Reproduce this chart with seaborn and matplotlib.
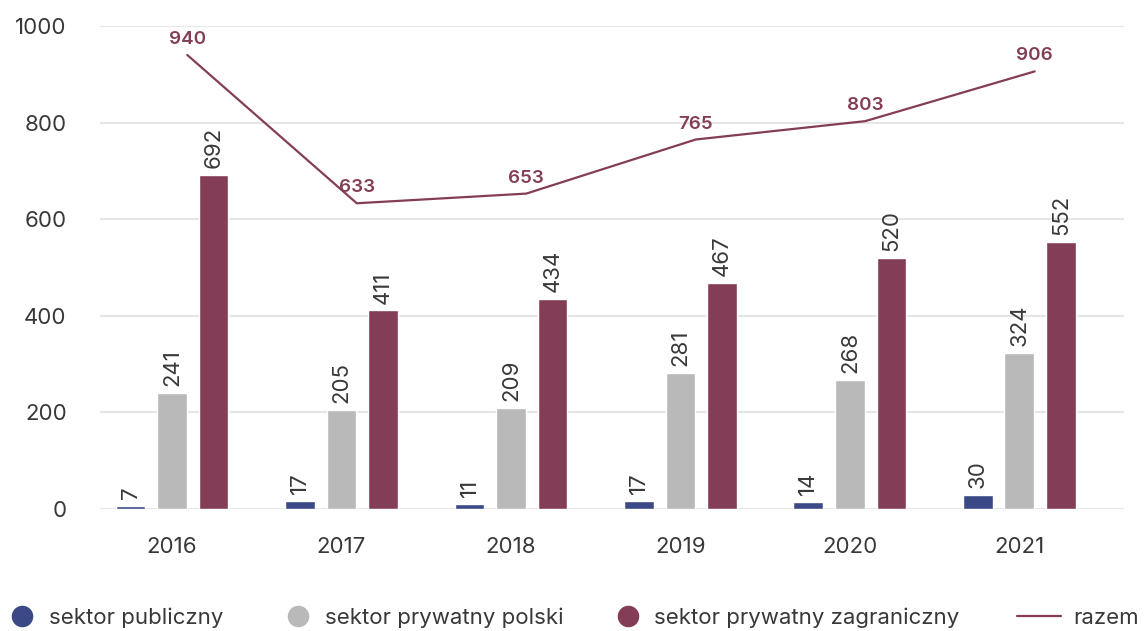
import numpy as np
import pandas as pd
import matplotlib
matplotlib.use("Agg")
import matplotlib.pyplot as plt
from matplotlib.lines import Line2D
import seaborn as sns

# Values per year
years = ["2016", "2017", "2018", "2019", "2020", "2021"]
publiczny = [7, 17, 11, 17, 14, 30]
prywatny_polski = [241, 205, 209, 281, 268, 324]
prywatny_zagraniczny = [692, 411, 434, 467, 520, 552]
razem = [940, 633, 653, 765, 803, 906]

sectors = ["sektor publiczny", "sektor prywatny polski", "sektor prywatny zagraniczny"]
colors = ["#3b4a86", "#b8b9b8", "#843d56"]
line_color = "#843d56"

df = pd.DataFrame({
    "rok": years * 3,
    "sektor": [sectors[0]] * 6 + [sectors[1]] * 6 + [sectors[2]] * 6,
    "liczba": publiczny + prywatny_polski + prywatny_zagraniczny,
})

sns.set_theme(style="white")
plt.rcParams["font.family"] = ["Inter", "DejaVu Sans"]
text_color = "#383838"
fs = 16

fig = plt.figure(figsize=(11.44, 6.31), dpi=100)
ax = fig.add_axes([100 / 1144, 1 - 509 / 631, 1024 / 1144, 483 / 631])

sns.barplot(data=df, x="rok", y="liczba", hue="sektor", hue_order=sectors,
            palette=colors, width=0.735, gap=0.28, saturation=1,
            legend=False, ax=ax, zorder=3)

for container in ax.containers:
    ax.bar_label(container, labels=[f"{v:.0f}" for v in container.datavalues],
                 rotation=90, padding=5, fontsize=fs, color=text_color)

# total line, slightly right of each group's centre
xpos = np.arange(len(years)) + 0.09
sns.lineplot(x=xpos, y=razem, color=line_color, linewidth=1.6, ax=ax, zorder=4)
for x, v in zip(xpos, razem):
    ax.annotate(f"{v}", (x, v), xytext=(0, 5), textcoords="offset points",
                ha="center", va="bottom", fontsize=13.5, fontweight="semibold",
                color=line_color, annotation_clip=False)

ax.set_xlim(-0.425, 5.617)
ax.set_ylim(0, 1000)
ax.set_yticks(range(0, 1001, 200))
ax.yaxis.grid(True, color="#e6e6e6", linewidth=1.5, zorder=0)
ax.set_axisbelow(True)
ax.set_xlabel("")
ax.set_ylabel("")
for s in ax.spines.values():
    s.set_visible(False)
ax.tick_params(axis="both", length=0, labelsize=fs, colors=text_color)
ax.tick_params(axis="y", pad=24)
ax.tick_params(axis="x", pad=20)

# legend row along the bottom
def add_item(handle, label, x_left, handlelength, textpad):
    fig.legend(handles=[handle], labels=[label], loc="center left",
               bbox_to_anchor=(x_left / 1144, 1 - 618 / 631), frameon=False,
               borderpad=0, borderaxespad=0, handlelength=handlelength,
               handletextpad=textpad, prop={"size": fs},
               labelcolor=text_color)

def dot(c):
    return Line2D([], [], marker="o", linestyle="none", markersize=14.5,
                  markerfacecolor=c, markeredgecolor=c)

add_item(dot(colors[0]), sectors[0], 11, 0.95, 0.75)
add_item(dot(colors[1]), sectors[1], 287, 0.95, 0.75)
add_item(dot(colors[2]), sectors[2], 617, 0.95, 0.7)
add_item(Line2D([], [], color=line_color, linewidth=1.6), "razem", 1017, 2.0, 0.55)

fig.savefig("out.png", dpi=100)
